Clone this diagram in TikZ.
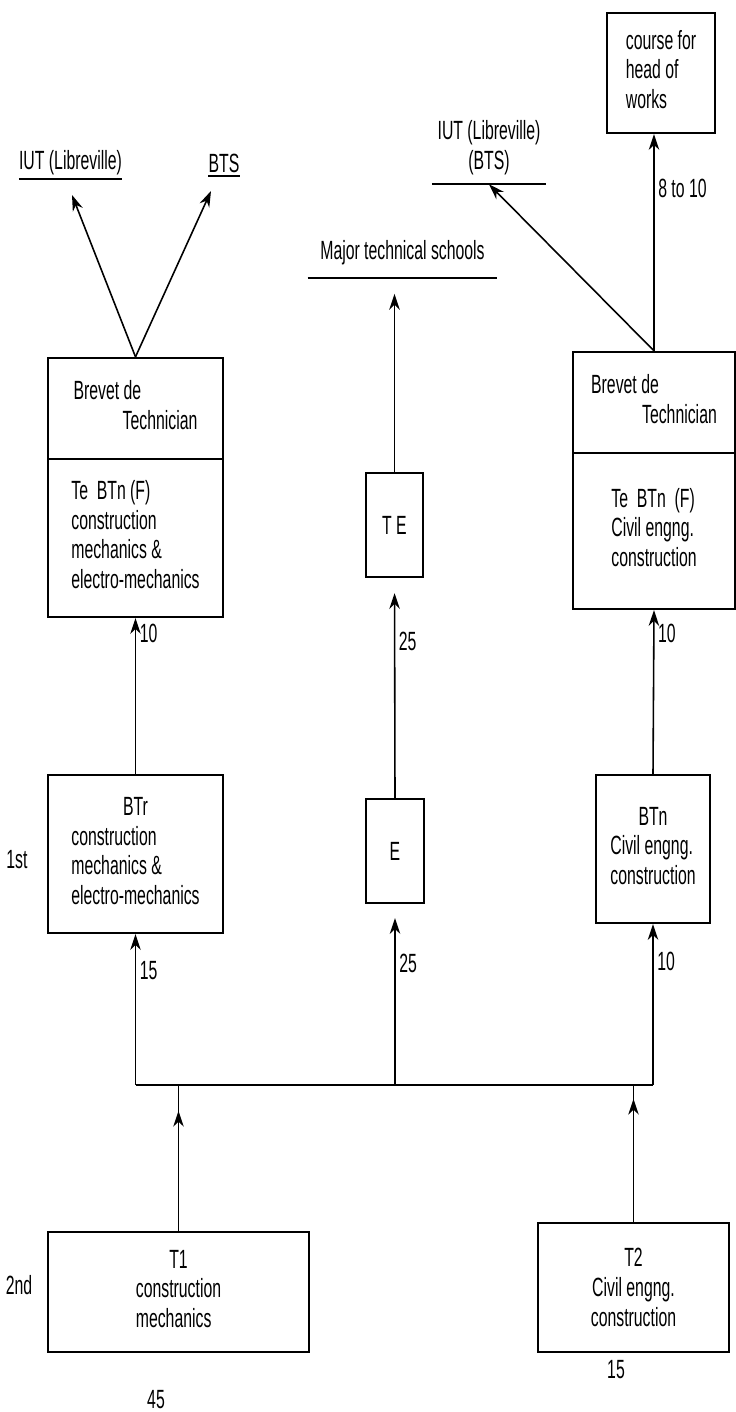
\documentclass[tikz,border=0pt]{standalone}
\usepackage{fontspec}
\setmainfont{Liberation Sans}[FakeStretch=0.6]
\usepackage{tikz}
\usetikzlibrary{arrows.meta}

\begin{document}
\begin{tikzpicture}[x=0.02cm, y=-0.02cm, font=\fontsize{15}{17}\selectfont]
        \tikzstyle{box} = [draw, line width=1.3pt, inner sep=2pt, align=center]
        \tikzstyle{dest} = [inner xsep=0pt, inner ysep=2pt, align=center]
        \tikzstyle{uline} = [line width=1.2pt]
        \tikzstyle{arr} = [->, >={Stealth[length=9pt, width=6pt]}, line width=0.9pt]
        \tikzstyle{lbl} = [right, inner sep=2pt]
        \useasboundingbox (0,0) rectangle (736,1412);

        % where the pupils go on to
        \node[dest] (iut1) at (70.5,163) {IUT (Libreville)};
        \node[dest] (bts) at (224,163) {BTS};
        \node[dest, inner xsep=3pt, inner ysep=5pt] (iut2) at (489,148) {IUT (Libreville)\\(BTS)};
        \node[dest, inner xsep=7pt, inner ysep=7pt] (mts) at (402.5,253) {Major technical schools};
        \draw[uline] (iut1.south west) -- (iut1.south east);
        \draw[uline] (bts.south west) -- (bts.south east);
        \draw[uline] (iut2.south west) -- (iut2.south east);
        \draw[uline] (mts.south west) -- (mts.south east);
        \node[box, minimum width=2.16cm, minimum height=2.4cm] (chef) at (661,73) {\begin{tabular}{@{}l@{}}course for\\head of\\works\end{tabular}};

        % Brevet de Technicien
        \node[box, minimum width=3.5cm, minimum height=2.02cm] (bt1head) at (135.5,408.5) {\begin{tabular}{@{}l@{}}Brevet de\\\hspace{28pt}Technician\end{tabular}};
        \node[box, minimum width=3.5cm, minimum height=3.16cm] (bt1) at (135.5,538) {\begin{tabular}{@{}l@{}}Te~~BTn (F)\\construction\\mechanics \&\\electro-mechanics\end{tabular}};
        \node[box, minimum width=3.24cm, minimum height=2.02cm] (bt2head) at (654,402.5) {\begin{tabular}{@{}l@{}}Brevet de\\\hspace{29pt}Technician\end{tabular}};
        \node[box, minimum width=3.24cm, minimum height=3.12cm] (bt2) at (654,531) {\begin{tabular}{@{}l@{}}Te~~BTn~~(F)\\Civil engng.\\construction\end{tabular}};
        \node[box, minimum width=1.14cm, minimum height=2.08cm] (te) at (394.5,525) {T E};

        % 1st year
        \node[box, minimum width=3.5cm, minimum height=3.16cm] (btr) at (135.5,854) {\begin{tabular}{@{}l@{}}\multicolumn{1}{@{}c@{}}{BTr}\\construction\\mechanics \&\\electro-mechanics\end{tabular}};
        \node[box, minimum width=1.16cm, minimum height=2.08cm] (e) at (395,851) {E};
        \node[box, minimum width=2.28cm, minimum height=2.96cm] (btn) at (653,849) {\begin{tabular}{@{}l@{}}\multicolumn{1}{@{}c@{}}{BTn}\\Civil engng.\\construction\end{tabular}};

        % 2nd year
        \node[box, minimum width=5.22cm, minimum height=2.4cm] (t1) at (178.5,1292) {\begin{tabular}{@{}l@{}}\multicolumn{1}{@{}c@{}}{T1}\\construction\\mechanics\end{tabular}};
        \node[box, minimum width=3.82cm, minimum height=2.58cm] (t2) at (633.5,1287.5) {T2\\Civil engng.\\construction};

        \node (first) at (17,860) {1st};
        \node (second) at (19,1285) {2nd};
        \node (n45) at (156,1400) {45};
        \node (n15b) at (616,1370) {15};

        \coordinate (iut1tip) at (72,195);
        \coordinate (btstip) at (211,191);
        \coordinate (bus) at (0,1085);

        \draw[arr] (bt1head.north) -- (iut1tip);
        \draw[arr] (bt1head.north) -- (btstip);
        \draw[arr] (bt2head.north) -- (iut2.south);
        \draw[arr] (bt2head.north) -- (bt2head.north |- chef.south) node[lbl, pos=0.75] (n8) {8 to 10};
        \draw[arr, shorten >=0.32cm] (te.north) -- (te.north |- mts.south);
        \draw[arr, shorten >=0.3cm] (e.north) -- (te.south) node[lbl, pos=0.71] (n25a) {25};
        \draw[arr] (btr.north) -- (bt1.south) node[lbl, pos=0.9] (n10a) {10};
        \draw[arr] (btn.north) -- (bt2.south) node[lbl, pos=0.855] (n10b) {10};

        \draw[line width=0.9pt] (btr.south |- bus) -- (btn.south |- bus);
        \draw[arr] (btr.south |- bus) -- (btr.south) node[lbl, pos=0.757] (n15) {15};
        \draw[arr, shorten >=0.28cm] (e.south |- bus) -- (e.south) node[lbl, pos=0.67] (n25b) {25};
        \draw[arr] (btn.south |- bus) -- (btn.south) node[lbl, pos=0.77] (n10c) {10};
        \draw[line width=0.9pt] (t1.north) -- (t1.north |- bus);
        \draw[arr] (t1.north) -- ++(0,-120);
        \draw[line width=0.9pt] (t2.north) -- (t2.north |- bus);
        \draw[arr] (t2.north) -- ++(0,-123);
      \end{tikzpicture}
\end{document}
